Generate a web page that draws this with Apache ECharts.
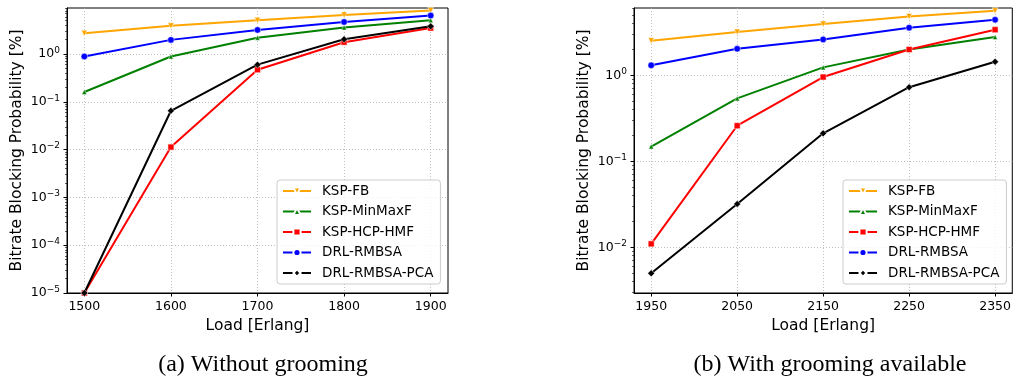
<!DOCTYPE html>
<html>
<head>
<meta charset="utf-8">
<title>Bitrate blocking probability</title>
<script src="https://cdn.jsdelivr.net/npm/echarts@6/dist/echarts.min.js"></script>
<style>
    html,
    body {
        margin: 0;
        padding: 0;
        background: #fff;
    }
    #chart {
        width: 1014px;
        height: 381px;
    }
</style>
</head>
<body>
<div id="chart"></div>
<script>
// (a) without grooming
var loadA = [1500, 1600, 1700, 1800, 1900];
var fbA = [2.73, 3.9, 5.1, 6.6, 8.2];
var minMaxA = [0.161, 0.89, 2.2, 3.6, 5.1];
var hcpA = [0.00001, 0.0113, 0.47, 1.77, 3.5];
var drlA = [0.89, 1.98, 3.2, 4.7, 6.4];
var pcaA = [0.00001, 0.065, 0.6, 2.04, 3.8];
var yTicksA = [0.00001, 0.0001, 0.001, 0.01, 0.1, 1];

// (b) with grooming available
var loadB = [1950, 2050, 2150, 2250, 2350];
var fbB = [2.53, 3.2, 3.96, 4.85, 5.65];
var minMaxB = [0.149, 0.54, 1.24, 2.0, 2.79];
var hcpB = [0.011, 0.26, 0.957, 2.0, 3.4];
var drlB = [1.31, 2.04, 2.62, 3.59, 4.44];
var pcaB = [0.005, 0.032, 0.212, 0.73, 1.44];
var yTicksB = [0.01, 0.1, 1];

var names = ["KSP-FB", "KSP-MinMaxF", "KSP-HCP-HMF", "DRL-RMBSA", "DRL-RMBSA-PCA"];

var font = "DejaVu Sans";

// minor ticks 2..9 of every decade inside [lo, hi]
function minorTicks(lo, hi) {
    let out = [];
    for (let e = -6; e <= 1; e++) {
        for (let m = 2; m <= 9; m++) {
            let v = m * Math.pow(10, e);
            if (v > lo && v < hi) out.push(v);
        }
    }
    return out;
}

function powLabel(v) {
    let e = Math.log10(v);
    if (Math.abs(e - Math.round(e)) > 1e-6) return "";
    e = Math.round(e);
    return "{b|10}{s|" + (e < 0 ? "\u2212" + -e : e) + "}";
}

function xAxes(idx, lo, hi, ticks) {
    return {
        type: "value",
        gridIndex: idx,
        min: lo,
        max: hi,
        name: "Load [Erlang]",
        nameLocation: "middle",
        nameGap: 22,
        nameTextStyle: { fontFamily: font, fontSize: 15.5, color: "#000" },
        axisLine: { lineStyle: { color: "#000", width: 1 } },
        axisTick: { customValues: ticks, length: 3.5, lineStyle: { color: "#000" } },
        axisLabel: {
            customValues: ticks,
            margin: 7,
            formatter: function (v) {
                return String(v);
            },
            fontFamily: font,
            fontSize: 12.5,
            color: "#000",
        },
        splitLine: { show: true, lineStyle: { color: "#b0b0b0", type: [1, 2], width: 0.8 } },
    };
}

function yAxes(idx, lo, hi, ticks) {
    return [
        {
            type: "log",
            logBase: 10,
            gridIndex: idx,
            min: lo,
            max: hi,
            name: "Bitrate Blocking Probability [%]",
            nameLocation: "middle",
            nameGap: 42,
            nameTextStyle: { fontFamily: font, fontSize: 15.5, color: "#000" },
            axisLine: { lineStyle: { color: "#000", width: 1 } },
            axisTick: { customValues: ticks, length: 3.5, lineStyle: { color: "#000" } },
            axisLabel: {
                customValues: ticks,
                margin: 7,
                formatter: powLabel,
                rich: {
                    b: { fontFamily: font, fontSize: 12.5, color: "#000" },
                    s: { fontFamily: font, fontSize: 9, color: "#000", padding: [0, 0, 7, 0] },
                },
            },
            splitLine: { show: true, lineStyle: { color: "#b0b0b0", type: [1, 2], width: 0.8 } },
        },
        {
            // minor ticks only
            type: "log",
            logBase: 10,
            gridIndex: idx,
            min: lo,
            max: hi,
            position: "left",
            axisLine: { show: false },
            axisTick: { customValues: minorTicks(lo, hi), length: 2, lineStyle: { color: "#000", width: 0.6 } },
            axisLabel: { show: false },
            splitLine: { show: false },
        },
    ];
}

var looks = [
    { color: "#ffa500", symbol: "triangle", rotate: 180, size: 6 },
    { color: "#008000", symbol: "triangle", rotate: 0, size: 5 },
    { color: "#ff0000", symbol: "rect", rotate: 0, size: 6 },
    { color: "#0000ff", symbol: "circle", rotate: 0, size: 6.5 },
    { color: "#000000", symbol: "diamond", rotate: 0, size: 7 },
];

function makeSeries(idx, xs, lists) {
    return lists.map(function (ys, i) {
        let lk = looks[i];
        return {
            name: names[i],
            type: "line",
            xAxisIndex: idx,
            yAxisIndex: idx * 2,
            data: xs.map(function (x, j) {
                return [x, ys[j]];
            }),
            clip: false,
            symbol: lk.symbol,
            symbolRotate: lk.rotate,
            symbolSize: lk.size,
            color: lk.color,
            lineStyle: { width: 2, color: lk.color },
            itemStyle: { color: lk.color, borderColor: "#fff", borderWidth: 0.5 },
            emphasis: { disabled: true },
            z: 3 + i,
        };
    });
}

function legend(left) {
    return {
        orient: "vertical",
        left: left,
        top: 180,
        data: names,
        itemWidth: 28,
        itemHeight: 9,
        itemGap: 6.5,
        padding: [4, 7, 4, 5],
        backgroundColor: "rgba(255,255,255,0.8)",
        borderColor: "#cccccc",
        borderWidth: 1,
        borderRadius: 3,
        selectedMode: false,
        textStyle: {
            fontFamily: font,
            fontSize: 13.5,
            lineHeight: 14,
            color: "#000",
            padding: [0, 0, 0, 6],
        },
    };
}

var chart = echarts.init(document.getElementById("chart"), null, { renderer: "canvas" });

var option = {
    animation: false,
    backgroundColor: "#fff",
    grid: [
        { left: 67, top: 8, width: 381, height: 285, show: true, borderColor: "#000", borderWidth: 1, backgroundColor: "transparent" },
        { left: 634, top: 8, width: 381, height: 285, show: true, borderColor: "#000", borderWidth: 1, backgroundColor: "transparent" },
    ],
    legend: [legend(277), legend(843)],
    xAxis: [xAxes(0, 1480, 1920, loadA), xAxes(1, 1930, 2370, loadB)],
    yAxis: yAxes(0, 0.00001, 9.2, yTicksA).concat(yAxes(1, 0.00295, 6.08, yTicksB)),
    series: makeSeries(0, loadA, [fbA, minMaxA, hcpA, drlA, pcaA]).concat(
        makeSeries(1, loadB, [fbB, minMaxB, hcpB, drlB, pcaB])
    ),
    graphic: [
        {
            type: "text",
            x: 263,
            y: 365,
            style: {
                text: "(a) Without grooming",
                font: '24px "Liberation Serif"',
                fill: "#000",
                align: "center",
                verticalAlign: "middle",
            },
        },
        {
            type: "text",
            x: 830,
            y: 365,
            style: {
                text: "(b) With grooming available",
                font: '24px "Liberation Serif"',
                fill: "#000",
                align: "center",
                verticalAlign: "middle",
            },
        },
    ],
};

chart.setOption(option);
</script>
</body>
</html>
